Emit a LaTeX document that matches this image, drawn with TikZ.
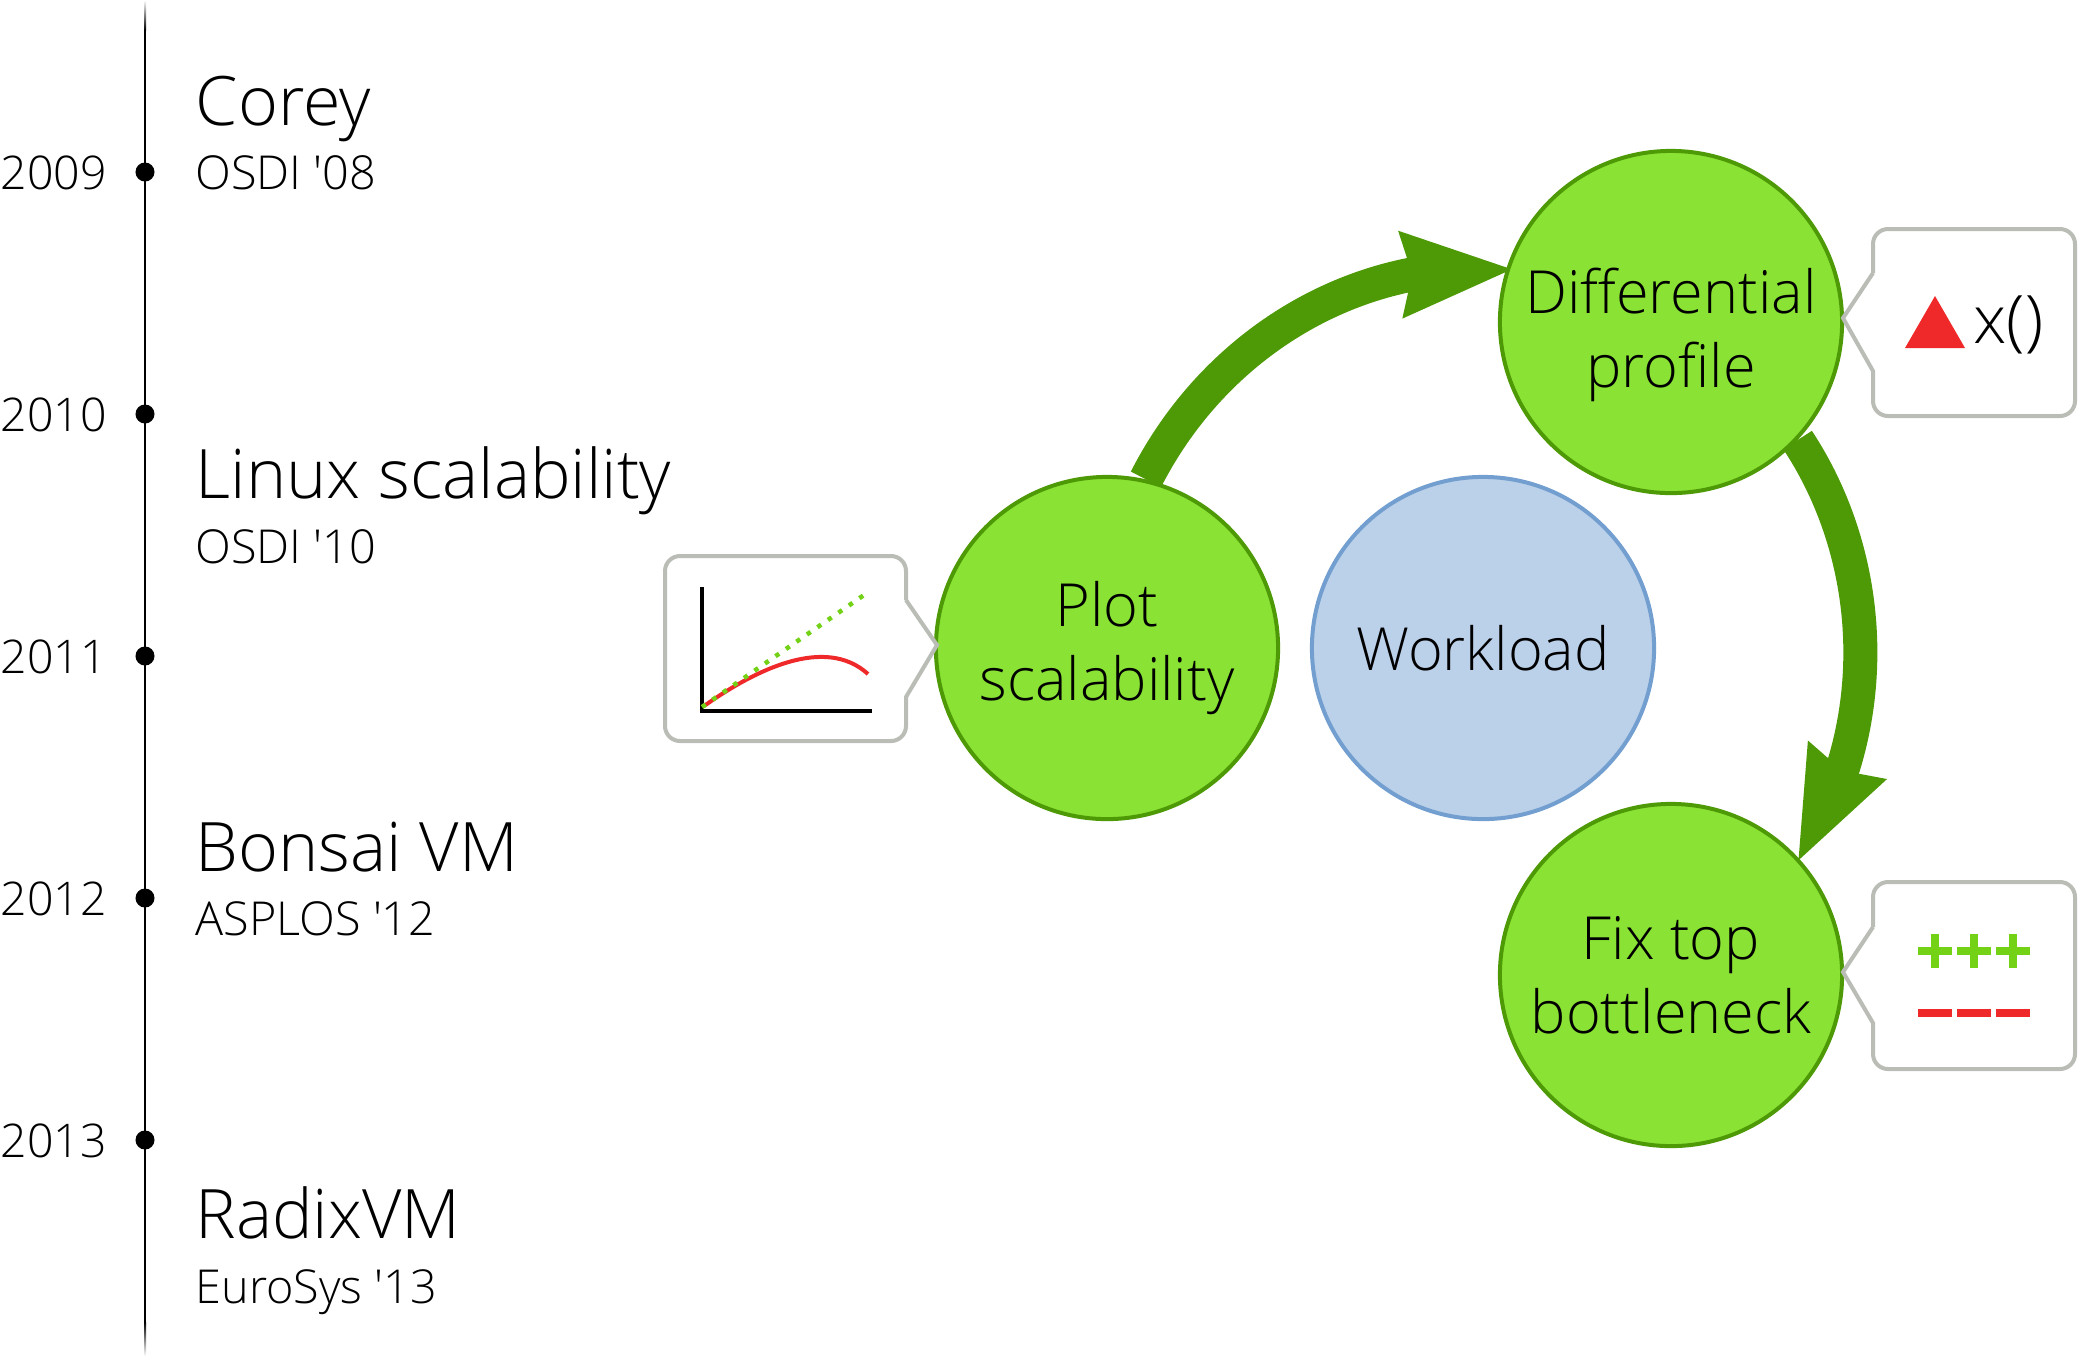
\documentclass[tikz,border=0pt]{standalone}
\usepackage{fontspec}
\setmainfont{Open Sans}[UprightFont=* Light]
\usetikzlibrary{arrows.meta,bending,backgrounds}
\definecolor{leafGreen}{HTML}{8AE234}
\definecolor{darkLeafGreen}{HTML}{4E9A06}
\definecolor{brightGreen}{HTML}{73D216}
\definecolor{paleBlue}{HTML}{BBD0E9}
\definecolor{skyBlue}{HTML}{729FCF}
\definecolor{scarlet}{HTML}{EF2929}
\definecolor{aluminium}{HTML}{BABDB6}
\tikzset{
	steplabel/.style={inner sep=0pt,align=center,font=\fontsize{16.9}{21.2}\selectfont},
	stepcircle/.style={steplabel,circle,draw=darkLeafGreen,fill=leafGreen,line width=0.04cm,minimum size=3.42cm},
	loadcircle/.style={stepcircle,draw=skyBlue,fill=paleBlue},
	flowarrow/.style={darkLeafGreen,line width=0.34cm,-{Stealth[length=1.1cm,width=0.8cm,inset=0.08cm]}},
	bubble/.style={aluminium,line width=0.04cm,fill=white},
	yeardot/.style={circle,fill=black,minimum size=0.19cm,inner sep=0pt},
	yearlabel/.style={anchor=base west,inner sep=0pt,font=\fontsize{13.2}{15}\selectfont},
	worktitle/.style={anchor=base west,inner sep=0pt,font=\fontsize{19.4}{23}\selectfont},
	venue/.style={anchor=base west,inner sep=0pt,font=\fontsize{13.3}{15}\selectfont}
}
\begin{document}
\begin{tikzpicture}[x=0.01cm,y=-0.01cm]
	\useasboundingbox (0,0) rectangle (2078,1356);
	% timeline
	\shade[top color=white,bottom color=black] (144,0) rectangle (146,30);
	\draw[line width=0.025cm] (145,30) -- (145,1322);
	\shade[top color=black,bottom color=white] (144,1322) rectangle (146,1356);
	\foreach \y/\year in {172/2009,414/2010,656/2011,898/2012,1140/2013} {
		\node[yeardot] (dot\year) at (145,\y) {};
		\node[yearlabel] (year\year) at (0,\y+17) {\year};
	}
	\node[worktitle] (corey) at (195,125) {Corey};
	\node[venue] (coreyvenue) at (195,189) {OSDI \textquotesingle08};
	\node[worktitle] (linux) at (195,498) {Linux scalability};
	\node[venue] (linuxvenue) at (195,563) {OSDI \textquotesingle10};
	\node[worktitle] (bonsai) at (195,871) {Bonsai VM};
	\node[venue] (bonsaivenue) at (195,935) {ASPLOS \textquotesingle12};
	\node[worktitle] (radix) at (195,1238) {RadixVM};
	\node[venue] (radixvenue) at (195,1303) {EuroSys \textquotesingle13};

	% the cycle
	\node[stepcircle] (plot) at (1107,648) {Plot\\scalability};
	\node[loadcircle] (workload) at (1483,648) {Workload};
	\node[stepcircle] (diff) at (1671,322) {};
	\node[steplabel] (difflabel) at (1671,335) {Differential\\profile};
	\node[stepcircle] (fix) at (1671,975) {Fix top\\bottleneck};
	\begin{scope}[on background layer]
		\draw[flowarrow,shorten >=-0.08cm] (plot.77) to[out=63,in=176,looseness=0.93] (diff.162);
		\draw[flowarrow,shorten >=-0.04cm] (diff.-43) to[out=-56.6,in=56.5,looseness=0.91] (fix.42);
	\end{scope}

	% plot callout
	\draw[bubble] (906,600) -- (937,645) -- (906,697) [rounded corners=0.15cm] -- (906,741) -- (665,741) -- (665,556) -- (906,556) -- (906,600);
	\draw[line width=0.04cm] (702,587) -- (702,711) -- (872,711);
	\draw[scarlet,line width=0.04cm] (704,706) .. controls (755,670) and (825,635) .. (868,674);
	\draw[brightGreen,line width=0.045cm,dash pattern=on 0.045cm off 0.0825cm] (702,707) -- (864,595);

	% differential callout
	\draw[bubble] (1873,273) -- (1843,318) -- (1873,371) [rounded corners=0.15cm] -- (1873,416) -- (2075,416) -- (2075,229) -- (1873,229) -- (1873,273);
	\fill[scarlet] (1905,348) -- (1965,348) -- (1935,296) -- cycle;
	\node[anchor=base west,inner sep=0pt,font=\fontsize{19}{23}\selectfont] (funcname) at (1973,343) {x()};

	% fix callout
	\draw[bubble] (1873,927) -- (1843,972) -- (1873,1023) [rounded corners=0.15cm] -- (1873,1069) -- (2075,1069) -- (2075,882) -- (1873,882) -- (1873,927);
	\foreach \x in {1935,1974,2013} {
		\draw[brightGreen,line width=0.075cm] (\x-17,951) -- (\x+17,951);
		\draw[brightGreen,line width=0.075cm] (\x,934) -- (\x,968);
		\draw[scarlet,line width=0.08cm] (\x-17,1013) -- (\x+17,1013);
	}
\end{tikzpicture}
\end{document}
